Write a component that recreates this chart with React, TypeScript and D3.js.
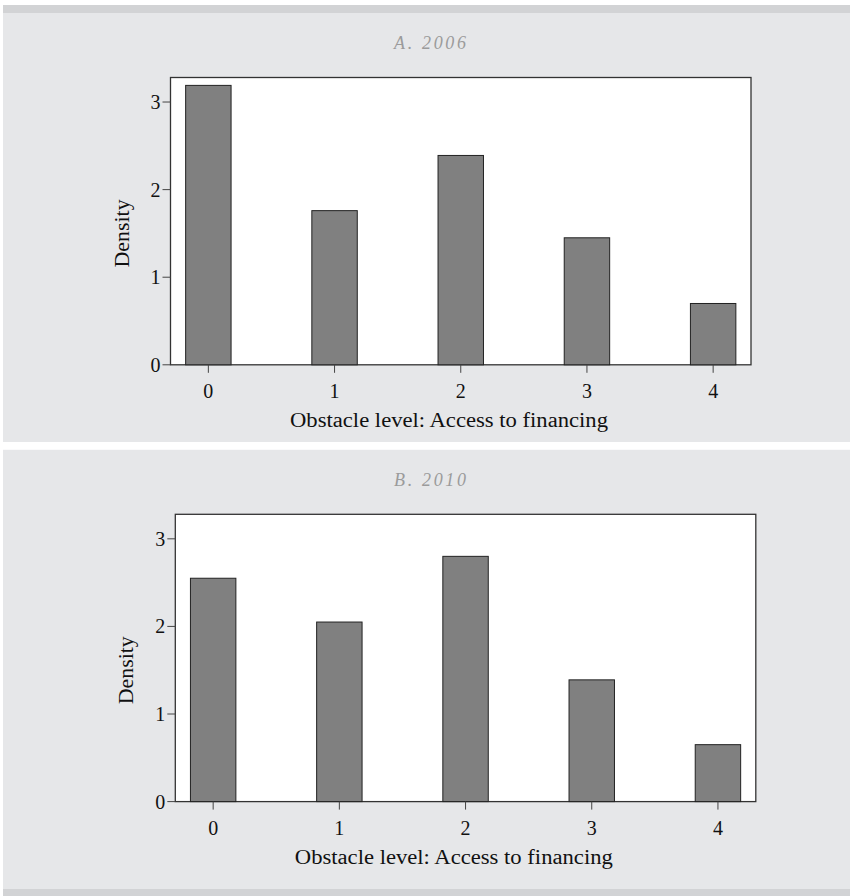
import React from "react";
import * as d3 from "d3";

const levels = [0, 1, 2, 3, 4];
const density2006 = [3.19, 1.76, 2.39, 1.45, 0.7];
const density2010 = [2.55, 2.05, 2.8, 1.39, 0.65];
const yTicks = [0, 1, 2, 3];
const panelTitles = ["A. 2006", "B. 2010"];
const xTitle = "Obstacle level: Access to financing";
const yTitle = "Density";

const W = 850;
const H = 896;
const serif = "'Liberation Serif', 'Times New Roman', serif";

type PanelProps = {
  title: string;
  values: number[];
  top: number; // top of the gray panel
  bottom: number;
  plotLeft: number;
};

const Panel = ({ title, values, top, bottom, plotLeft }: PanelProps) => {
  const plotTop = top + 64.5;
  const plotBottom = plotTop + 287.3;
  const plotRight = plotLeft + 580.5;

  const x = d3.scaleLinear().domain([-0.3, 4.3]).range([plotLeft, plotRight]);
  const y = d3.scaleLinear().domain([0, 3.28]).range([plotBottom, plotTop]);
  const barW = x(0.36) - x(0);
  const tickCenter = (y(0) + y(3)) / 2;

  return (
    <g>
      <rect x={3} y={top} width={W - 3} height={bottom - top} fill="#e6e7e9" />
      <text
        x={430}
        y={top + 30}
        textAnchor="middle"
        dominantBaseline="central"
        fontFamily={serif}
        fontStyle="italic"
        fontSize={18}
        fill="#9b9b9b"
        textLength={72}
        lengthAdjust="spacing"
      >
        {title}
      </text>

      {/* plot region */}
      <rect
        x={plotLeft}
        y={plotTop}
        width={plotRight - plotLeft}
        height={plotBottom - plotTop}
        fill="#ffffff"
        stroke="#333"
        strokeWidth={1.3}
      />

      {values.map((v, i) => (
        <rect
          key={i}
          x={x(levels[i]) - barW / 2}
          y={y(v)}
          width={barW}
          height={y(0) - y(v)}
          fill="#808080"
          stroke="#222"
          strokeWidth={1}
        />
      ))}

      {/* y axis */}
      {yTicks.map((t) => (
        <g key={t}>
          <line x1={plotLeft - 8} x2={plotLeft} y1={y(t)} y2={y(t)} stroke="#444" strokeWidth={1} />
          <text
            x={plotLeft - 10}
            y={y(t)}
            textAnchor="end"
            dominantBaseline="central"
            fontFamily={serif}
            fontSize={20}
            fill="#111"
          >
            {t}
          </text>
        </g>
      ))}
      <text
        transform={`translate(${plotLeft - 49},${tickCenter}) rotate(-90)`}
        textAnchor="middle"
        dominantBaseline="central"
        fontFamily={serif}
        fontSize={20}
        fill="#111"
        textLength={68}
        lengthAdjust="spacingAndGlyphs"
      >
        {yTitle}
      </text>

      {/* x axis */}
      {levels.map((l) => (
        <g key={l}>
          <line x1={x(l)} x2={x(l)} y1={plotBottom} y2={plotBottom + 8} stroke="#444" strokeWidth={1} />
          <text
            x={x(l)}
            y={plotBottom + 26}
            textAnchor="middle"
            dominantBaseline="central"
            fontFamily={serif}
            fontSize={20}
            fill="#111"
          >
            {l}
          </text>
        </g>
      ))}
      <text
        x={plotLeft + 278.5}
        y={plotBottom + 55}
        textAnchor="middle"
        dominantBaseline="central"
        fontFamily={serif}
        fontSize={20}
        fill="#111"
        textLength={318}
        lengthAdjust="spacingAndGlyphs"
      >
        {xTitle}
      </text>
    </g>
  );
};

export default function App() {
  return (
    <svg
      width={W}
      height={H}
      style={{ position: "absolute", left: 0, top: 0, background: "#ffffff" }}
    >
      <rect x={3} y={5} width={W - 3} height={8} fill="#d2d3d5" />
      <Panel title={panelTitles[0]} values={density2006} top={13} bottom={442} plotLeft={170.5} />
      <Panel title={panelTitles[1]} values={density2010} top={449.8} bottom={889} plotLeft={175.3} />
      <rect x={3} y={889} width={W - 3} height={7} fill="#d2d3d5" />
    </svg>
  );
}
